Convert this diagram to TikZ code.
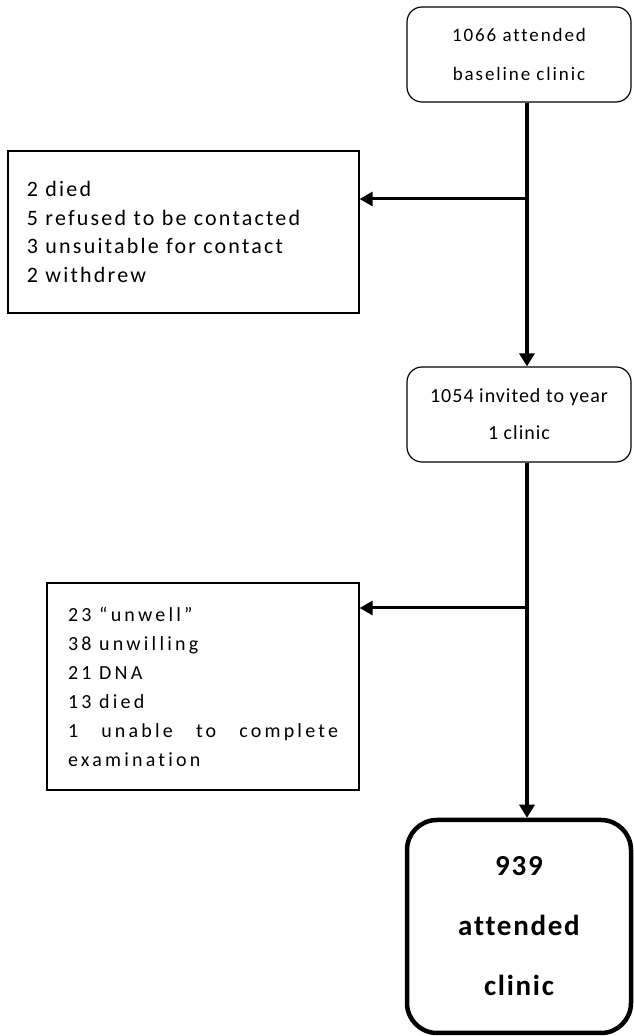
\documentclass[tikz,border=0pt]{standalone}
\usepackage{fontspec}
\setmainfont{Carlito}[LetterSpace=10, Ligatures={NoCommon}]
\usepackage{tikz}
\usetikzlibrary{arrows.meta, positioning, calc}

\begin{document}
\begin{tikzpicture}[x=1pt,y=1pt,
    roundbox/.style={draw, line width=1.2pt, rounded corners=15pt, minimum width=224pt,
      minimum height=95pt, align=center, inner sep=0pt},
    listbox/.style={draw, line width=1.2pt, align=left, inner ysep=0pt},
    mainflow/.style={line width=4pt, -{Triangle[length=13pt,width=15pt]}},
    sideflow/.style={line width=3pt, -{Triangle[length=13pt,width=14pt]}}]
  \path[use as bounding box] (0,0) rectangle (633,1036);

  % Baseline
  \node[roundbox, font=\fontsize{19}{39}\selectfont] (base) at (519,981.5) {
    1066 attended\\ baseline clinic};
  \coordinate (j1) at (527,837);

  \node[listbox, inner xsep=19pt, text width=313pt, minimum height=162pt,
    font=\fontsize{22}{28.5}\selectfont] (lossA) at (183.5,804) {
    2 died\\
    5 refused to be contacted\\
    3 unsuitable for contact\\
    2 withdrew};

  % Year 1
  \node[roundbox, font=\fontsize{20}{37}\selectfont\addfontfeature{LetterSpace=5}] (year) at (519,621.5) {
    1054 invited to year\\ 1 clinic};
  \coordinate (j2) at (527,428);

  \node[listbox, inner xsep=21pt, text width=270pt, minimum height=207pt, align=justify,
    font=\fontsize{20}{29}\selectfont\addfontfeature{LetterSpace=16}] (lossB) at (203,349.5) {
    23 “unwell”\\
    38 unwilling\\
    21 DNA\\
    13 died\\
    1 unable to complete \mbox{examination}};

  % Attended
  \node[roundbox, line width=4.5pt, rounded corners=30pt, minimum height=213pt,
    font=\fontsize{29}{60}\selectfont\bfseries\addfontfeature{LetterSpace=6}] (done) at (519,109.5) {
    939\\ attended\\ clinic};

  \draw[mainflow] (base.south -| j1) -- (year.north -| j1);
  \draw[sideflow] (j1) -- (j1 -| lossA.east);
  \draw[mainflow] (year.south -| j2) -- (done.north -| j2);
  \draw[sideflow] (j2) -- (j2 -| lossB.east);
\end{tikzpicture}
\end{document}
